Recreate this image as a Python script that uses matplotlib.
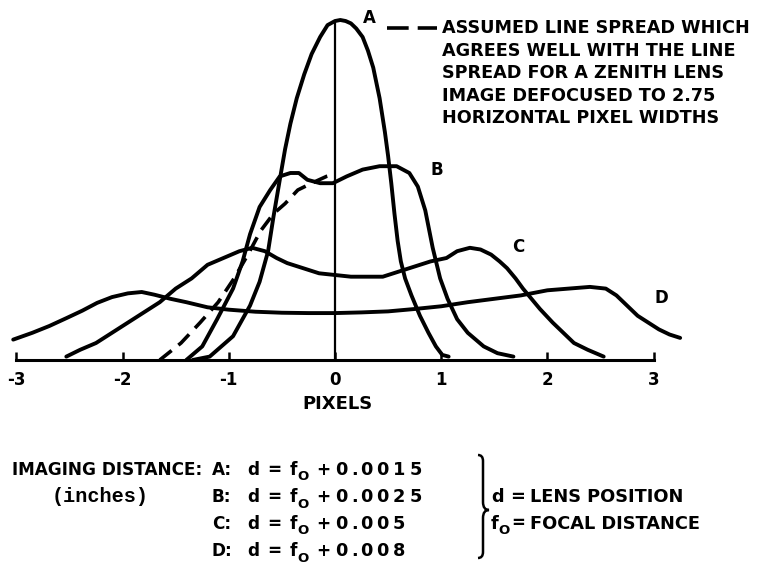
import matplotlib

matplotlib.use("Agg")
import matplotlib.pyplot as plt
from matplotlib.lines import Line2D
from matplotlib.path import Path
from matplotlib.patches import PathPatch


FIG_W_PX = 761
FIG_H_PX = 573
DPI = 100

FONT = "DejaVu Sans"
MONO = "Liberation Mono"

# line spread curves: x in pixels, relative intensity (A peak = 1)
curve_a_x = [-1.34, -1.18, -0.96, -0.80, -0.71, -0.63, -0.58, -0.52, -0.47, -0.42,
             -0.36, -0.29, -0.22, -0.14, -0.07, 0.0, 0.05, 0.10, 0.15, 0.20,
             0.26, 0.31, 0.36, 0.42, 0.47, 0.50, 0.53, 0.56, 0.59, 0.62,
             0.66, 0.72, 0.80, 0.88, 0.95, 1.01, 1.07]
curve_a_y = [0.0, 0.01, 0.07, 0.16, 0.23, 0.32, 0.42, 0.53, 0.62, 0.695,
             0.77, 0.84, 0.90, 0.95, 0.985, 0.997, 1.0, 0.997, 0.99, 0.975,
             0.95, 0.91, 0.86, 0.77, 0.67, 0.60, 0.52, 0.43, 0.35, 0.29,
             0.24, 0.19, 0.13, 0.08, 0.04, 0.015, 0.01]

curve_b_x = [-1.40, -1.25, -1.11, -0.96, -0.87, -0.80, -0.71, -0.61, -0.52, -0.42,
             -0.34, -0.26, -0.14, -0.02, 0.11, 0.26, 0.42, 0.58, 0.70, 0.78,
             0.85, 0.92, 0.99, 1.06, 1.15, 1.25, 1.40, 1.53, 1.68]
curve_b_y = [0.0, 0.04, 0.12, 0.21, 0.29, 0.37, 0.45, 0.50, 0.54, 0.55,
             0.55, 0.53, 0.52, 0.52, 0.54, 0.56, 0.57, 0.57, 0.55, 0.51,
             0.44, 0.33, 0.24, 0.18, 0.12, 0.08, 0.04, 0.02, 0.01]

curve_c_x = [-2.53, -2.40, -2.25, -2.10, -1.95, -1.80, -1.65, -1.50, -1.35, -1.20,
             -1.05, -0.90, -0.78, -0.66, -0.55, -0.45, -0.30, -0.15, 0.0, 0.15,
             0.30, 0.45, 0.60, 0.75, 0.90, 1.05, 1.15, 1.27, 1.37, 1.47,
             1.55, 1.62, 1.70, 1.77, 1.85, 1.93, 2.05, 2.15, 2.25, 2.38, 2.53]
curve_c_y = [0.01, 0.03, 0.05, 0.08, 0.11, 0.14, 0.17, 0.21, 0.24, 0.28,
             0.30, 0.32, 0.33, 0.32, 0.30, 0.285, 0.27, 0.255, 0.25, 0.245,
             0.245, 0.245, 0.26, 0.275, 0.29, 0.30, 0.32, 0.33, 0.325, 0.31,
             0.29, 0.27, 0.24, 0.21, 0.18, 0.15, 0.11, 0.08, 0.05, 0.03, 0.01]

curve_d_x = [-3.03, -2.85, -2.69, -2.53, -2.38, -2.24, -2.10, -1.95, -1.82, -1.70,
             -1.55, -1.40, -1.20, -1.00, -0.75, -0.50, -0.25, 0.0, 0.25, 0.50,
             0.75, 1.00, 1.25, 1.50, 1.75, 2.00, 2.20, 2.40, 2.55, 2.65,
             2.75, 2.85, 2.95, 3.05, 3.15, 3.25]
curve_d_y = [0.06, 0.08, 0.10, 0.123, 0.145, 0.168, 0.185, 0.196, 0.20, 0.192,
             0.18, 0.17, 0.155, 0.148, 0.142, 0.139, 0.138, 0.138, 0.14, 0.143,
             0.15, 0.158, 0.17, 0.18, 0.19, 0.205, 0.21, 0.215, 0.21, 0.19,
             0.16, 0.13, 0.11, 0.09, 0.075, 0.065]

assumed_x = [-1.65, -1.45, -1.27, -1.10, -0.95, -0.82, -0.70, -0.58, -0.47, -0.35,
             -0.22, -0.08, -0.02]
assumed_y = [0.0, 0.05, 0.11, 0.17, 0.24, 0.31, 0.38, 0.43, 0.46, 0.50,
             0.52, 0.54, 0.545]

x_ticks = [-3, -2, -1, 0, 1, 2, 3]

legend_lines = [
    "ASSUMED LINE SPREAD WHICH",
    "AGREES WELL WITH THE LINE",
    "SPREAD FOR A ZENITH LENS",
    "IMAGE DEFOCUSED TO 2.75",
    "HORIZONTAL PIXEL WIDTHS",
]

row_labels = ["A:", "B:", "C:", "D:"]
row_offsets = ["0.0015", "0.0025", "0.005", "0.008"]

# layout in figure pixels
X0_PX = 335
PX_PER_UNIT = 106.2
BASE_PX = 360
PEAK_PX = 340


def fx(px):
    return px / FIG_W_PX


def fy(py):
    return 1 - py / FIG_H_PX


def label(fig, px, py, s, size=12.2, **kw):
    kw.setdefault("ha", "left")
    kw.setdefault("va", "center")
    kw.setdefault("family", FONT)
    kw.setdefault("fontweight", "bold")
    fig.text(fx(px), fy(py), s, fontsize=size, color="black", **kw)


def spaced(fig, px, py, s, pitch, size=12.2):
    # wide-set numbers, one glyph at a time
    x = px
    for ch in s:
        label(fig, x, py, ch, size=size)
        x += pitch * (0.5 if ch == "." else 1.0)


def main():
    plt.rcParams["axes.unicode_minus"] = False

    fig = plt.figure(figsize=(FIG_W_PX / DPI, FIG_H_PX / DPI), dpi=DPI)

    ax = fig.add_axes([0, fy(BASE_PX), 1, BASE_PX / FIG_H_PX])
    ax.set_xlim(-X0_PX / PX_PER_UNIT, (FIG_W_PX - X0_PX) / PX_PER_UNIT)
    ax.set_ylim(0, BASE_PX / PEAK_PX)
    ax.patch.set_alpha(0)

    for side in ["top", "left", "right"]:
        ax.spines[side].set_visible(False)
    ax.spines["bottom"].set_bounds(x_ticks[0], x_ticks[-1])
    ax.spines["bottom"].set_linewidth(2.2)
    ax.set_yticks([])
    ax.set_xticks(x_ticks)
    ax.set_xticklabels([str(t) for t in x_ticks])
    ax.tick_params(axis="x", direction="in", length=6, width=1.8, pad=8,
                   labelsize=12)
    for t in ax.get_xticklabels():
        t.set_fontfamily(FONT)
        t.set_fontweight("bold")

    solid = dict(color="black", lw=2.8, solid_capstyle="round",
                 solid_joinstyle="round", clip_on=False)
    ax.plot(curve_a_x, curve_a_y, **solid)
    ax.plot(curve_b_x, curve_b_y, **solid)
    ax.plot(curve_c_x, curve_c_y, **solid)
    ax.plot(curve_d_x, curve_d_y, **solid)
    ax.plot(assumed_x, assumed_y, color="black", lw=2.6,
            linestyle=(0, (4.2, 2.4)), dash_capstyle="butt", clip_on=False)

    # vertical centre line up to the A peak
    ax.vlines(0, 0, max(curve_a_y) - 0.005, color="black", lw=1.6)

    # curve letters
    label(fig, 363, 18, "A", size=12)
    label(fig, 430, 170, "B", size=12)
    label(fig, 512, 247, "C", size=12)
    label(fig, 654, 298, "D", size=12)

    label(fig, 337, 404, "PIXELS", size=13, ha="center")

    # dashed legend sample and description
    fig.add_artist(Line2D([fx(387), fx(437)], [fy(28), fy(28)],
                          transform=fig.transFigure, color="black", lw=2.6,
                          linestyle=(0, (6, 2.5))))
    for i, line in enumerate(legend_lines):
        label(fig, 442, 28 + i * 22.6, line, size=12.7)

    # imaging distance table
    row_y = [470, 497, 524, 551]
    label(fig, 12, row_y[0], "IMAGING DISTANCE:")
    label(fig, 52, row_y[1], "(inches)", family=MONO, size=14.5)
    for lab, off, py in zip(row_labels, row_offsets, row_y):
        label(fig, 212, py, lab)
        label(fig, 247, py, "d")
        label(fig, 267, py, "=")
        label(fig, 290, py, "f")
        label(fig, 297, py + 7, "O", size=9.5)
        label(fig, 316, py, "+")
        spaced(fig, 335, py, off, 16.5, size=12.8)

    # brace
    bx, top, mid, bot = 483, 455, 510, 558
    verts = [
        (bx - 5, top), (bx, top), (bx, top + 6),
        (bx, mid - 8), (bx, mid), (bx + 6, mid),
        (bx, mid), (bx, mid + 8),
        (bx, bot - 6), (bx, bot), (bx - 5, bot),
    ]
    codes = [Path.MOVETO, Path.CURVE3, Path.CURVE3,
             Path.LINETO, Path.CURVE3, Path.CURVE3,
             Path.CURVE3, Path.CURVE3,
             Path.LINETO, Path.CURVE3, Path.CURVE3]
    verts = [(fx(x), fy(y)) for x, y in verts]
    fig.add_artist(PathPatch(Path(verts, codes), transform=fig.transFigure,
                             fill=False, lw=1.8, color="black"))

    label(fig, 491, row_y[1], "d", size=12.8)
    label(fig, 510, row_y[1], "=", size=12.8)
    label(fig, 530, row_y[1], "LENS POSITION", size=12.8)
    label(fig, 491, row_y[2], "f", size=12.8)
    label(fig, 498, row_y[2] + 7, "O", size=9.5)
    label(fig, 511, row_y[2] - 1, "=", size=12)
    label(fig, 530, row_y[2], "FOCAL DISTANCE", size=12.8)

    fig.savefig("out.png", dpi=DPI, facecolor="white")
    plt.close(fig)


if __name__ == "__main__":
    main()
